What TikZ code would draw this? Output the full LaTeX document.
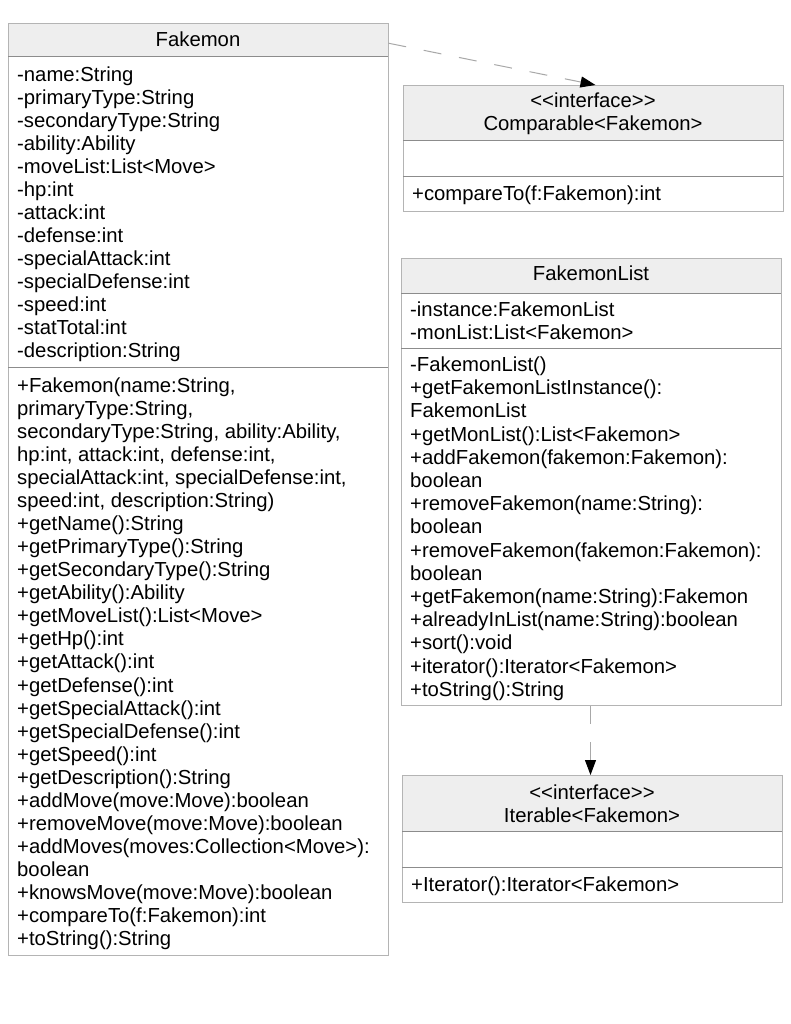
\documentclass[tikz,border=0pt]{standalone}
\usepackage{fontspec}
\setmainfont{Liberation Sans}[Ligatures=TeXOff]
\usetikzlibrary{arrows.meta}
\definecolor{bordergray}{HTML}{B4B4B4}
\definecolor{sepgray}{HTML}{8C8C8C}
\definecolor{hdrfill}{HTML}{EEEEEE}
\definecolor{linkgray}{HTML}{A8A8A8}
\begin{document}
\begin{tikzpicture}[x=1pt,y=-1pt,
  classbox/.style={draw=bordergray, line width=1pt, anchor=north west, inner sep=0pt},
  hdrbox/.style={fill=hdrfill, anchor=north west, inner sep=0pt},
  sepline/.style={draw=sepgray, line width=1pt},
  txt/.style={font=\fontsize{20.3}{23}\selectfont, inner sep=0pt, anchor=base west},
  htxt/.style={txt, anchor=base},
  link/.style={draw=linkgray, line width=1pt, dash pattern=on 18pt off 18pt,
    -{Triangle[length=15pt,width=11pt,color=black]}}]
\useasboundingbox (0,0) rectangle (791,1024);
\fill[white] (0,0) rectangle (791,1024);

% ---------- Fakemon ----------
\node[hdrbox, minimum width=380, minimum height=34] (fakh) at (8,23) {};
\node[classbox, minimum width=380, minimum height=932] (fak) at (8,23) {};
\draw[sepline] (8,57) -- (388,57);
\draw[sepline] (8,367) -- (388,367);
\node[htxt] (fakt) at (198,46.5) {Fakemon};
\foreach \t [count=\i from 0] in {-name:String,-primaryType:String,-secondaryType:String,-ability:Ability,-moveList:List<Move>,-hp:int,-attack:int,-defense:int,-specialAttack:int,-specialDefense:int,-speed:int,-statTotal:int,-description:String}
  \node[txt] (fa\i) at (17,{81.5+23*\i}) {\t};
\foreach \t [count=\i from 0] in {{+Fakemon(name:String,},{primaryType:String,},{secondaryType:String, ability:Ability,},{hp:int, attack:int, defense:int,},{specialAttack:int, specialDefense:int,},{speed:int, description:String)},+getName():String,+getPrimaryType():String,+getSecondaryType():String,+getAbility():Ability,+getMoveList():List<Move>,+getHp():int,+getAttack():int,+getDefense():int,+getSpecialAttack():int,+getSpecialDefense():int,+getSpeed():int,+getDescription():String,+addMove(move:Move):boolean,+removeMove(move:Move):boolean,+addMoves(moves:Collection<Move>):,boolean,+knowsMove(move:Move):boolean,+compareTo(f:Fakemon):int,+toString():String}
  \node[txt] (fm\i) at (17,{392.5+23.04*\i}) {\t};

% ---------- Comparable ----------
\node[hdrbox, minimum width=380, minimum height=56] (comph) at (403,85) {};
\node[classbox, minimum width=380, minimum height=126] (comp) at (403,85) {};
\draw[sepline] (403,141) -- (783,141);
\draw[sepline] (403,177) -- (783,177);
\node[htxt] (compt1) at (593,107.5) {<<interface>>};
\node[htxt] (compt2) at (593,130.5) {Comparable<Fakemon>};
\node[txt] (compm) at (412,200.5) {+compareTo(f:Fakemon):int};

% ---------- FakemonList ----------
\node[hdrbox, minimum width=380, minimum height=35] (flh) at (401,258) {};
\node[classbox, minimum width=380, minimum height=447] (fl) at (401,258) {};
\draw[sepline] (401,293) -- (781,293);
\draw[sepline] (401,348) -- (781,348);
\node[htxt] (flt) at (591,280.5) {FakemonList};
\node[txt] (fla0) at (410,316.5) {-instance:FakemonList};
\node[txt] (fla1) at (410,339.5) {-monList:List<Fakemon>};
\foreach \t [count=\i from 0] in {-FakemonList(),+getFakemonListInstance():,FakemonList,+getMonList():List<Fakemon>,+addFakemon(fakemon:Fakemon):,boolean,+removeFakemon(name:String):,boolean,+removeFakemon(fakemon:Fakemon):,boolean,+getFakemon(name:String):Fakemon,+alreadyInList(name:String):boolean,+sort():void,+iterator():Iterator<Fakemon>,+toString():String}
  \node[txt] (flm\i) at (410,{371.5+23.2*\i}) {\t};

% ---------- Iterable ----------
\node[hdrbox, minimum width=380, minimum height=56] (iterh) at (402,775) {};
\node[classbox, minimum width=380, minimum height=127] (iter) at (402,775) {};
\draw[sepline] (402,831) -- (782,831);
\draw[sepline] (402,867) -- (782,867);
\node[htxt] (itert1) at (592,799.5) {<<interface>>};
\node[htxt] (itert2) at (592,822.5) {Iterable<Fakemon>};
\node[txt] (iterm) at (411,891.5) {+Iterator():Iterator<Fakemon>};

% ---------- connectors ----------
\draw[link] ([yshift=-3]fakh.east) -- ([xshift=2]comp.north);
\draw[link] ([xshift=-1]fl.south) -- ([xshift=-1]fl.south |- iter.north);
\end{tikzpicture}
\end{document}
